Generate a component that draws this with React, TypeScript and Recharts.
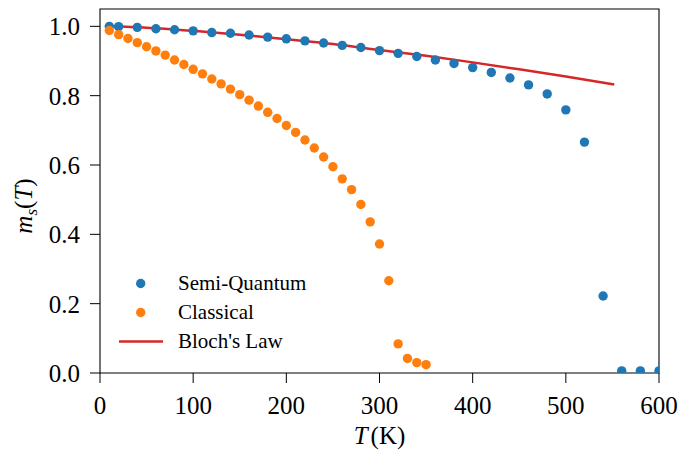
import React from "react";
import {
  ComposedChart,
  Scatter,
  Line,
  XAxis,
  YAxis,
  ReferenceArea,
  Legend,
  Label,
} from "recharts";

// ---- data ----
const quantumT = [10, 20, 40, 60, 80, 100, 120, 140, 160, 180, 200, 220, 240, 260, 280, 300, 320, 340, 360, 380, 400, 420, 440, 460, 480, 500, 520, 540, 560, 580, 600];
const quantumM = [1.0, 0.999, 0.997, 0.993, 0.99, 0.987, 0.982, 0.98, 0.975, 0.969, 0.964, 0.958, 0.952, 0.945, 0.939, 0.93, 0.922, 0.913, 0.903, 0.893, 0.881, 0.867, 0.851, 0.831, 0.805, 0.759, 0.666, 0.222, 0.006, 0.006, 0.006];

const classicalT = [10, 20, 30, 40, 50, 60, 70, 80, 90, 100, 110, 120, 130, 140, 150, 160, 170, 180, 190, 200, 210, 220, 230, 240, 250, 260, 270, 280, 290, 300, 310, 320, 330, 340, 350];
const classicalM = [0.988, 0.976, 0.965, 0.953, 0.941, 0.929, 0.917, 0.903, 0.89, 0.876, 0.863, 0.848, 0.834, 0.819, 0.803, 0.787, 0.77, 0.752, 0.734, 0.714, 0.694, 0.672, 0.649, 0.623, 0.595, 0.56, 0.529, 0.486, 0.436, 0.372, 0.266, 0.084, 0.042, 0.03, 0.024];

const blochT = [10, 50, 100, 150, 200, 250, 300, 350, 400, 450, 500, 552];
const blochM = [1.0, 0.996, 0.987, 0.976, 0.963, 0.949, 0.932, 0.915, 0.896, 0.876, 0.855, 0.832];

const xTicks = [0, 100, 200, 300, 400, 500, 600];
const yTicks = [0, 0.2, 0.4, 0.6, 0.8, 1.0];

const seriesNames = ["Semi-Quantum", "Classical", "Bloch's Law"];
const seriesColors = ["#1f77b4", "#ff7f0e", "#d62728"];

const quantumData = quantumT.map((t, i) => ({ T: t, m: quantumM[i] }));
const classicalData = classicalT.map((t, i) => ({ T: t, m: classicalM[i] }));
const blochData = blochT.map((t, i) => ({ T: t, m: blochM[i] }));

const FONT = "'Liberation Serif', 'DejaVu Serif', serif";

const dot = (color: string) => (props: any) =>
  <circle cx={props.cx} cy={props.cy} r={4.7} fill={color} />;

const YLabel = (props: any) => {
  const vb = props.viewBox || { x: 0, y: 0, width: 100, height: 364 };
  const cx = vb.x + 32;
  const cy = vb.y + vb.height / 2 + 15;
  return (
    <text
      x={cx}
      y={cy}
      transform={`rotate(-90, ${cx}, ${cy})`}
      textAnchor="middle"
      fontFamily={FONT}
      fontSize={25}
      fill="#000"
    >
      <tspan fontStyle="italic">m</tspan>
      <tspan fontStyle="italic" fontSize={17} dy={5}>s</tspan>
      <tspan dy={-5}>(</tspan>
      <tspan fontStyle="italic">T</tspan>
      <tspan>)</tspan>
    </text>
  );
};

const XLabel = (props: any) => {
  const vb = props.viewBox || { x: 100, y: 373, width: 559, height: 77 };
  const cx = vb.x + vb.width / 2;
  return (
    <text x={cx} y={vb.y + 71} textAnchor="middle" fontFamily={FONT} fontSize={25} fill="#000">
      <tspan fontStyle="italic">T</tspan>
      <tspan dx={3}>(K)</tspan>
    </text>
  );
};

const LegendContent = () => (
  <div style={{ fontFamily: FONT, fontSize: 21, color: "#000" }}>
    {seriesNames.map((name, i) => (
      <div key={name} style={{ display: "flex", alignItems: "center", height: 29, lineHeight: "29px" }}>
        <svg width={60} height={29} style={{ display: "block" }}>
          {i < 2 ? (
            <circle cx={30.7} cy={14.5} r={4.7} fill={seriesColors[i]} />
          ) : (
            <line x1={9} x2={53} y1={14.5} y2={14.5} stroke={seriesColors[i]} strokeWidth={2.5} />
          )}
        </svg>
        <span style={{ marginLeft: 8, whiteSpace: "nowrap" }}>{name}</span>
      </div>
    ))}
  </div>
);

export default function App() {
  return (
    <div style={{ position: "absolute", left: 0, top: 0, background: "#fff" }}>
      <ComposedChart
        width={679}
        height={450}
        margin={{ top: 9, right: 20, left: 0, bottom: 0 }}
        style={{ fontFamily: FONT }}
      >
        <XAxis
          type="number"
          dataKey="T"
          domain={[0, 600]}
          ticks={xTicks}
          allowDataOverflow
          height={77}
          axisLine={false}
          tickLine={{ stroke: "#000", strokeWidth: 1 }}
          tickSize={10}
          tickMargin={13}
          tick={{ fill: "#000", fontSize: 25, fontFamily: FONT }}
          interval={0}
        >
          <Label content={XLabel} />
        </XAxis>
        <YAxis
          type="number"
          dataKey="m"
          domain={[0, 1.05]}
          ticks={yTicks}
          allowDataOverflow
          width={100}
          axisLine={false}
          tickLine={{ stroke: "#000", strokeWidth: 1 }}
          tickSize={10}
          tickMargin={10}
          tickFormatter={(v: number) => v.toFixed(1)}
          tick={{ fill: "#000", fontSize: 25, fontFamily: FONT }}
          interval={0}
        >
          <Label content={YLabel} />
        </YAxis>
        <ReferenceArea x1={0} x2={600} y1={0} y2={1.05} fill="none" stroke="#000" strokeWidth={1.1} strokeOpacity={1} fillOpacity={0} />
        <Scatter name={seriesNames[0]} data={quantumData} dataKey="m" fill={seriesColors[0]} shape={dot(seriesColors[0])} isAnimationActive={false} />
        <Scatter name={seriesNames[1]} data={classicalData} dataKey="m" fill={seriesColors[1]} shape={dot(seriesColors[1])} isAnimationActive={false} />
        <Line name={seriesNames[2]} data={blochData} dataKey="m" type="monotone" stroke={seriesColors[2]} strokeWidth={2.5} dot={false} activeDot={false} isAnimationActive={false} />
        <Legend
          layout="horizontal"
          verticalAlign="middle"
          align="center"
          content={LegendContent}
          wrapperStyle={{ left: 110, top: 269, width: 240 }}
        />
      </ComposedChart>
    </div>
  );
}
